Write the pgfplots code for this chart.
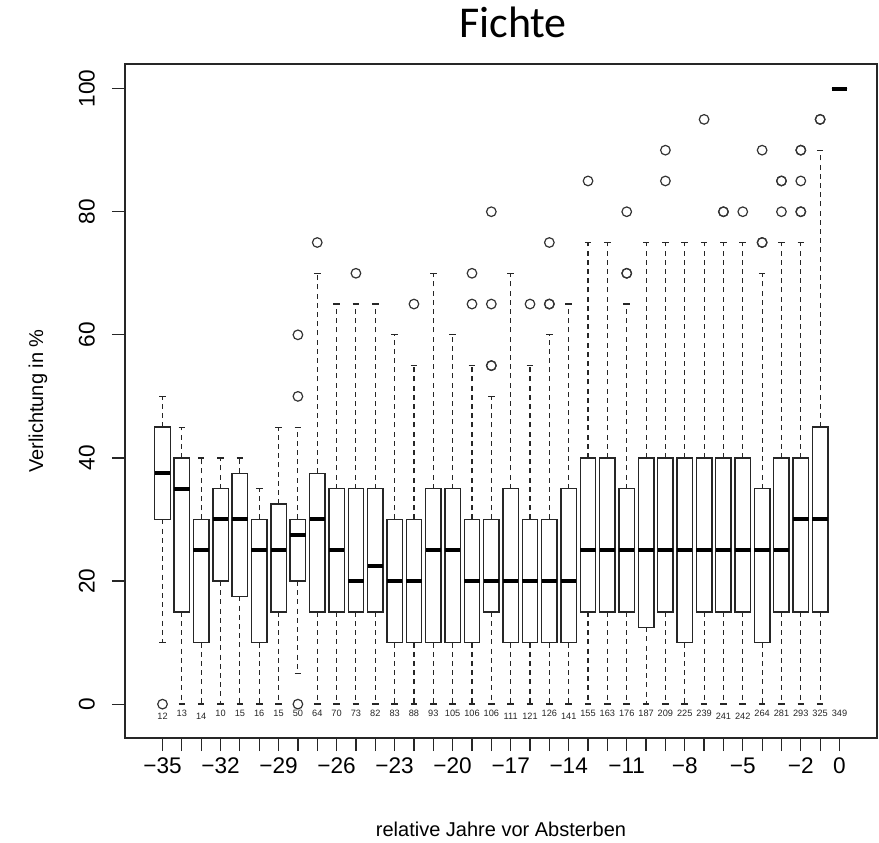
\documentclass[border=0pt]{standalone}
\usepackage{pgfplots}
\pgfplotsset{compat=1.18}
\usepgfplotslibrary{statistics}
\usepackage{fontspec}
\setmainfont{Liberation Sans}
\newfontfamily\titlefont{Carlito}

\pgfplotstableread{
x n y
-35 12 -1.9
-34 13 -1.5
-33 14 -1.9
-32 10 -1.5
-31 15 -1.5
-30 16 -1.5
-29 15 -1.5
-28 50 -1.5
-27 64 -1.5
-26 70 -1.5
-25 73 -1.5
-24 82 -1.5
-23 83 -1.5
-22 88 -1.5
-21 93 -1.5
-20 105 -1.5
-19 106 -1.5
-18 106 -1.5
-17 111 -1.9
-16 121 -1.9
-15 126 -1.5
-14 141 -1.9
-13 155 -1.5
-12 163 -1.5
-11 176 -1.5
-10 187 -1.5
-9 209 -1.5
-8 225 -1.5
-7 239 -1.5
-6 241 -1.9
-5 242 -1.9
-4 264 -1.5
-3 281 -1.5
-2 293 -1.5
-1 325 -1.5
0 349 -1.5
}\counts

\pgfplotsset{
  bx/.style n args={6}{boxplot prepared={draw position=#1, lower whisker=#2,
    lower quartile=#3, median=#4, upper quartile=#5, upper whisker=#6,
    box extend=0.8, whisker extend=0.34}},
}

\begin{document}
\begin{tikzpicture}
\begin{axis}[
  name=ax, at={(0,0)}, anchor=south west,
  scale only axis, width=376pt, height=337pt,
  xmin=-36.94, xmax=1.94, ymin=-5.5, ymax=104,
  axis line style={line width=0.65pt, black!85},
  tick align=outside, major tick length=6.5pt,
  major tick style={line width=0.6pt, black!85},
  xtick pos=bottom, ytick pos=left,
  xtick={-35,...,0},
  xticklabels={−35,,,−32,,,−29,,,−26,,,−23,,,−20,,,−17,,,−14,,,−11,,,−8,,,−5,,,−2,,0},
  ytick={0,20,40,60,80,100},
  yticklabels={0,20,40,60,80,100},
  ticklabel style={font=\fontsize{11.3}{13}\selectfont},
  yticklabel style={rotate=90, anchor=south},
  yticklabel shift=5pt,
  xlabel={relative Jahre vor Absterben},
  ylabel={Verlichtung in \%},
  label style={font=\fontsize{10}{12}\selectfont, inner sep=0pt},
  xlabel style={at={(axis description cs:0.5,-0.135)}, anchor=center},
  ylabel style={at={(axis description cs:-0.1157,0.5)}, anchor=center},
  title={Fichte},
  title style={font=\titlefont\fontsize{22}{26}\selectfont, inner sep=0pt, text height=15pt, text depth=0pt, at={(axis description cs:0.516,1.040)}, anchor=base, yshift=-6pt},
  boxplot/draw direction=y,
  boxplot/every box/.style={draw=black!85, fill=white, line width=0.7pt},
  boxplot/every median/.style={draw=black, line width=2pt},
  boxplot/draw/lower whisker/.code={%
    \draw[black!85, line width=0.55pt, dash pattern=on 2.5pt off 2.1pt]
      (boxplot box cs:\pgfplotsboxplotvalue{lower quartile},0.5) --
      (boxplot box cs:\pgfplotsboxplotvalue{lower whisker},0.5);
    \draw[black!85, line width=0.65pt]
      (boxplot whisker cs:\pgfplotsboxplotvalue{lower whisker},0) --
      (boxplot whisker cs:\pgfplotsboxplotvalue{lower whisker},1);
  },
  boxplot/draw/upper whisker/.code={%
    \draw[black!85, line width=0.55pt, dash pattern=on 2.5pt off 2.1pt]
      (boxplot box cs:\pgfplotsboxplotvalue{upper quartile},0.5) --
      (boxplot box cs:\pgfplotsboxplotvalue{upper whisker},0.5);
    \draw[black!85, line width=0.65pt]
      (boxplot whisker cs:\pgfplotsboxplotvalue{upper whisker},0) --
      (boxplot whisker cs:\pgfplotsboxplotvalue{upper whisker},1);
  },
  every axis plot/.append style={black!80, mark=o, mark size=2.4pt, mark options={line width=0.6pt, solid}},
]
\addplot[bx={-35}{10}{30}{37.5}{45}{50}] table[row sep=\\,y index=0]{d\\0\\};
\addplot[bx={-34}{0}{15}{35}{40}{45}] coordinates {};
\addplot[bx={-33}{0}{10}{25}{30}{40}] coordinates {};
\addplot[bx={-32}{0}{20}{30}{35}{40}] coordinates {};
\addplot[bx={-31}{0}{17.5}{30}{37.5}{40}] coordinates {};
\addplot[bx={-30}{0}{10}{25}{30}{35}] coordinates {};
\addplot[bx={-29}{0}{15}{25}{32.5}{45}] coordinates {};
\addplot[bx={-28}{5}{20}{27.5}{30}{45}] table[row sep=\\,y index=0]{d\\0\\50\\60\\};
\addplot[bx={-27}{0}{15}{30}{37.5}{70}] table[row sep=\\,y index=0]{d\\75\\};
\addplot[bx={-26}{0}{15}{25}{35}{65}] coordinates {};
\addplot[bx={-25}{0}{15}{20}{35}{65}] table[row sep=\\,y index=0]{d\\70\\};
\addplot[bx={-24}{0}{15}{22.5}{35}{65}] coordinates {};
\addplot[bx={-23}{0}{10}{20}{30}{60}] coordinates {};
\addplot[bx={-22}{0}{10}{20}{30}{55}] table[row sep=\\,y index=0]{d\\65\\};
\addplot[bx={-21}{0}{10}{25}{35}{70}] coordinates {};
\addplot[bx={-20}{0}{10}{25}{35}{60}] coordinates {};
\addplot[bx={-19}{0}{10}{20}{30}{55}] table[row sep=\\,y index=0]{d\\65\\70\\};
\addplot[bx={-18}{0}{15}{20}{30}{50}] table[row sep=\\,y index=0]{d\\55\\55\\65\\80\\};
\addplot[bx={-17}{0}{10}{20}{35}{70}] coordinates {};
\addplot[bx={-16}{0}{10}{20}{30}{55}] table[row sep=\\,y index=0]{d\\65\\};
\addplot[bx={-15}{0}{10}{20}{30}{60}] table[row sep=\\,y index=0]{d\\65\\65\\75\\};
\addplot[bx={-14}{0}{10}{20}{35}{65}] coordinates {};
\addplot[bx={-13}{0}{15}{25}{40}{75}] table[row sep=\\,y index=0]{d\\85\\};
\addplot[bx={-12}{0}{15}{25}{40}{75}] coordinates {};
\addplot[bx={-11}{0}{15}{25}{35}{65}] table[row sep=\\,y index=0]{d\\70\\70\\80\\};
\addplot[bx={-10}{0}{12.5}{25}{40}{75}] coordinates {};
\addplot[bx={-9}{0}{15}{25}{40}{75}] table[row sep=\\,y index=0]{d\\85\\90\\};
\addplot[bx={-8}{0}{10}{25}{40}{75}] coordinates {};
\addplot[bx={-7}{0}{15}{25}{40}{75}] table[row sep=\\,y index=0]{d\\95\\};
\addplot[bx={-6}{0}{15}{25}{40}{75}] table[row sep=\\,y index=0]{d\\80\\80\\};
\addplot[bx={-5}{0}{15}{25}{40}{75}] table[row sep=\\,y index=0]{d\\80\\};
\addplot[bx={-4}{0}{10}{25}{35}{70}] table[row sep=\\,y index=0]{d\\75\\75\\90\\};
\addplot[bx={-3}{0}{15}{25}{40}{75}] table[row sep=\\,y index=0]{d\\80\\85\\85\\};
\addplot[bx={-2}{0}{15}{30}{40}{75}] table[row sep=\\,y index=0]{d\\80\\80\\85\\90\\90\\};
\addplot[bx={-1}{0}{15}{30}{45}{90}] table[row sep=\\,y index=0]{d\\95\\95\\};
\addplot[bx={0}{100}{100}{100}{100}{100}] coordinates {};
\addplot[draw=none, mark=none, nodes near coords, point meta=explicit symbolic,
  every node near coord/.append style={anchor=center, inner sep=0pt, text=black!85,
    font=\fontsize{4.6}{5}\selectfont}]
  table[x=x, y=y, meta=n]{\counts};
\end{axis}
\path (-62.5pt,-52pt) rectangle (377pt,369pt);
\end{tikzpicture}
\end{document}
